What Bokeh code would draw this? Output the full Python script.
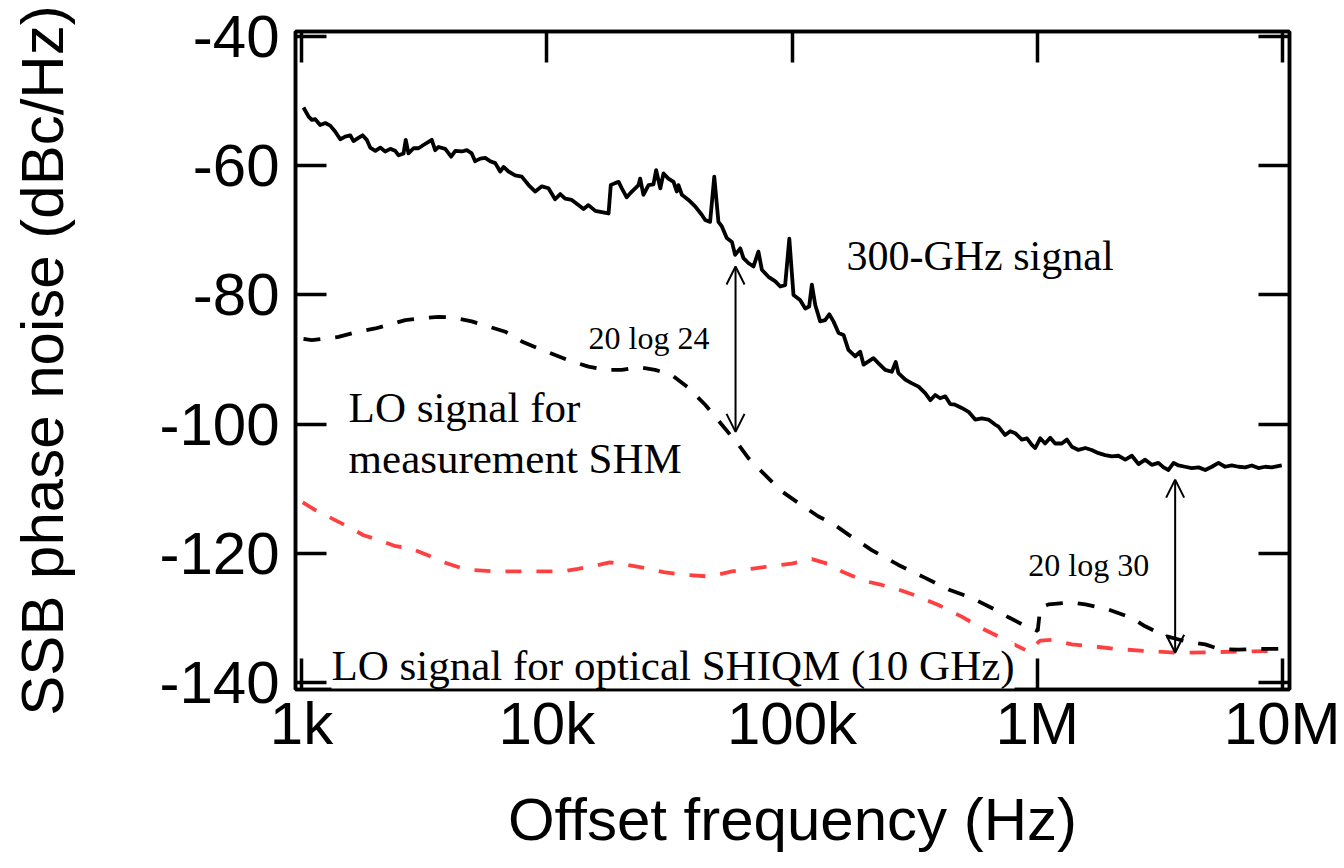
from bokeh.plotting import figure
from bokeh.models import (LogAxis, LinearAxis, FixedTicker, Range1d, Label,
                          Arrow, OpenHead)
from bokeh.embed import file_html
from bokeh.resources import INLINE

# ---------------- data ----------------
# x values are log10(offset frequency / Hz); y values are SSB phase noise in dBc/Hz

# 300-GHz signal (solid black)
sig_logf = [
    3.008, 3.029, 3.042, 3.056, 3.076, 3.097, 3.117, 3.137, 3.158, 3.178,
    3.199, 3.212, 3.232, 3.249, 3.266, 3.280, 3.301, 3.321, 3.341, 3.362,
    3.382, 3.396, 3.416, 3.425, 3.436, 3.457, 3.477, 3.497, 3.518, 3.531,
    3.545, 3.559, 3.586, 3.610, 3.627, 3.654, 3.674, 3.694, 3.708, 3.729,
    3.749, 3.769, 3.790, 3.810, 3.824, 3.844, 3.871, 3.898, 3.926, 3.953,
    3.980, 4.007, 4.034, 4.055, 4.075, 4.102, 4.129, 4.150, 4.170, 4.198,
    4.224, 4.252, 4.261, 4.279, 4.293, 4.306, 4.326, 4.347, 4.374, 4.381,
    4.394, 4.415, 4.435, 4.446, 4.463, 4.476, 4.496, 4.517, 4.530, 4.537,
    4.551, 4.578, 4.605, 4.632, 4.646, 4.666, 4.683, 4.700, 4.714, 4.734,
    4.755, 4.768, 4.789, 4.802, 4.823, 4.843, 4.863, 4.877, 4.904, 4.932,
    4.952, 4.972, 4.989, 5.006, 5.033, 5.054, 5.070, 5.081, 5.095, 5.115,
    5.135, 5.152, 5.169, 5.190, 5.210, 5.230, 5.258, 5.278, 5.292, 5.312,
    5.332, 5.353, 5.380, 5.407, 5.423, 5.434, 5.462, 5.489, 5.516, 5.543,
    5.564, 5.584, 5.604, 5.625, 5.645, 5.665, 5.692, 5.720, 5.747, 5.774,
    5.801, 5.829, 5.842, 5.869, 5.890, 5.910, 5.937, 5.958, 5.978, 5.992,
    6.012, 6.032, 6.053, 6.073, 6.100, 6.121, 6.141, 6.168, 6.196, 6.222,
    6.250, 6.277, 6.304, 6.331, 6.359, 6.386, 6.413, 6.440, 6.467, 6.494,
    6.515, 6.535, 6.556, 6.576, 6.603, 6.630, 6.658, 6.685, 6.712, 6.739,
    6.766, 6.793, 6.821, 6.848, 6.875, 6.902, 6.929, 6.956, 6.997,
]
sig_dbc = [
    -51.0, -52.4, -52.9, -52.8, -53.7, -53.4, -53.8, -54.7, -55.9, -55.5,
    -55.3, -56.2, -55.7, -55.3, -56.0, -57.2, -57.7, -57.2, -57.8, -57.4,
    -57.7, -58.4, -58.1, -56.0, -58.1, -57.3, -57.3, -56.8, -56.3, -56.0,
    -57.6, -57.1, -57.4, -58.6, -57.7, -57.8, -57.6, -58.1, -59.3, -58.9,
    -58.8, -59.3, -59.6, -60.9, -60.2, -60.9, -61.5, -61.7, -63.0, -64.0,
    -63.2, -63.5, -65.2, -64.4, -65.1, -65.3, -66.1, -66.7, -66.1, -67.0,
    -67.2, -67.4, -63.0, -62.7, -62.5, -63.5, -64.9, -64.0, -63.0, -62.0,
    -64.5, -63.0, -62.9, -60.7, -63.5, -61.2, -62.0, -62.5, -64.0, -63.0,
    -64.5, -65.3, -66.3, -67.6, -68.4, -68.7, -61.7, -68.7, -69.4, -71.2,
    -71.8, -73.8, -72.8, -74.3, -75.1, -75.6, -73.3, -76.1, -77.2, -77.9,
    -78.7, -78.5, -71.3, -80.0, -80.8, -82.1, -81.8, -78.4, -81.6, -84.1,
    -83.9, -83.0, -84.1, -85.9, -86.2, -88.5, -89.5, -88.8, -90.8, -90.3,
    -89.8, -90.6, -91.6, -91.9, -90.4, -92.1, -93.1, -93.7, -94.2, -95.2,
    -96.3, -95.5, -96.0, -95.7, -96.9, -97.0, -97.5, -98.1, -99.3, -99.1,
    -99.3, -100.1, -100.4, -101.7, -101.1, -101.4, -102.4, -102.2, -103.2, -103.7,
    -102.2, -103.0, -102.1, -103.0, -103.0, -102.4, -103.5, -104.0, -103.7, -104.0,
    -104.5, -104.8, -105.0, -104.9, -105.5, -104.9, -106.2, -105.5, -106.3, -106.0,
    -106.7, -107.1, -106.0, -106.4, -106.6, -106.8, -106.7, -107.1, -106.6, -106.0,
    -106.6, -106.4, -106.6, -106.7, -106.4, -106.8, -106.6, -106.7, -106.4,
]

# LO signal for measurement SHM (dashed black)
shm_logf = [
    3.008, 3.042, 3.151, 3.219, 3.301, 3.423, 3.491, 3.559, 3.613, 3.694,
    3.762, 3.831, 3.898, 3.966, 4.034, 4.102, 4.170, 4.238, 4.306, 4.374,
    4.442, 4.510, 4.578, 4.646, 4.714, 4.782, 4.823, 4.891, 4.958, 5.026,
    5.108, 5.162, 5.230, 5.325, 5.434, 5.543, 5.638, 5.733, 5.842, 5.883,
    5.964, 6.002, 6.012, 6.046, 6.141, 6.196, 6.291, 6.386, 6.440, 6.522,
    6.603, 6.685, 6.739, 6.821, 6.902, 6.997,
]
shm_dbc = [
    -86.8, -87.0, -86.5, -85.8, -85.2, -83.9, -83.6, -83.4, -83.5, -84.1,
    -84.9, -85.7, -87.2, -88.3, -89.3, -90.3, -91.1, -91.6, -91.6, -91.2,
    -91.6, -92.4, -94.4, -97.0, -100.1, -103.2, -105.3, -107.9, -110.4, -112.2,
    -114.3, -115.3, -117.1, -119.5, -121.8, -123.8, -125.6, -126.9, -129.0, -129.9,
    -131.5, -132.0, -128.5, -127.9, -127.6, -127.9, -128.7, -130.0, -131.3, -132.8,
    -133.6, -134.1, -134.8, -134.9, -134.8, -134.8,
]

# LO signal for optical SHIQM, 10 GHz (dashed red)
iqm_logf = [
    3.005, 3.056, 3.129, 3.180, 3.253, 3.311, 3.384, 3.442, 3.515, 3.573,
    3.646, 3.704, 3.791, 3.966, 4.068, 4.127, 4.199, 4.257, 4.345, 4.403,
    4.476, 4.549, 4.665, 4.755, 4.891, 4.999, 5.081, 5.162, 5.203, 5.298,
    5.366, 5.434, 5.516, 5.597, 5.692, 5.774, 5.869, 5.964, 6.012, 6.059,
    6.141, 6.250, 6.318, 6.440, 6.576, 6.712, 6.848, 6.997,
]
iqm_dbc = [
    -112.1, -113.3, -114.7, -115.7, -117.2, -117.9, -118.9, -119.2, -120.3, -121.3,
    -122.2, -122.6, -122.8, -122.8, -122.8, -122.4, -121.9, -121.4, -121.9, -122.3,
    -122.9, -123.3, -123.6, -122.8, -122.1, -121.6, -120.9, -121.8, -122.8, -124.3,
    -124.9, -125.6, -126.7, -128.0, -129.8, -131.6, -133.4, -135.2, -133.5, -133.4,
    -134.1, -134.5, -134.8, -135.1, -135.4, -135.3, -135.2, -135.1,
]

x_ticks = [1e3, 1e4, 1e5, 1e6, 1e7]
x_tick_labels = ["1k", "10k", "100k", "1M", "10M"]
y_ticks = [-140, -120, -100, -80, -60, -40]
y_tick_labels = ["-140", "-120", "-100", "-80", "-60", "-40"]

x_title = "Offset frequency (Hz)"
y_title = "SSB phase noise (dBc/Hz)"

# ---------------- figure ----------------
def hz(logs):
    return [10 ** v for v in logs]

p = figure(width=1340, height=862, x_axis_type="log",
           x_range=Range1d(945, 1.068e7), y_range=Range1d(-141.08, -39.23),
           output_backend="svg", toolbar_location=None,
           min_border_left=295, min_border_right=51,
           min_border_top=31, min_border_bottom=173)
p.background_fill_color = "white"
p.border_fill_color = "white"
p.outline_line_color = "black"
p.outline_line_width = 3.5
p.xgrid.visible = False
p.ygrid.visible = False

TICK_FONT = "Liberation Sans"

def style_axis(ax, ticks, overrides, show_labels):
    ax.ticker = FixedTicker(ticks=ticks)
    ax.major_label_overrides = overrides
    ax.axis_line_width = 3.5
    ax.axis_line_color = "black"
    ax.major_tick_line_width = 3.5
    ax.major_tick_line_color = "black"
    ax.major_tick_in = 31
    ax.major_tick_out = 0
    ax.minor_tick_line_color = None
    ax.major_label_text_font = TICK_FONT
    ax.major_label_text_color = "black"
    if show_labels:
        ax.major_label_text_font_size = "60px"
    else:
        ax.major_label_text_font_size = "0px"
        ax.major_label_standoff = 0

xov = {t: l for t, l in zip(x_ticks, x_tick_labels)}
yov = {t: l for t, l in zip(y_ticks, y_tick_labels)}

xa = p.xaxis[0]
style_axis(xa, x_ticks, xov, True)
xa.major_label_standoff = 0
xa.axis_label = x_title
xa.axis_label_text_font = TICK_FONT
xa.axis_label_text_font_size = "60px"
xa.axis_label_text_font_style = "normal"
xa.axis_label_text_color = "black"
xa.axis_label_standoff = 26

ya = p.yaxis[0]
style_axis(ya, y_ticks, yov, True)
ya.major_label_standoff = 16
ya.axis_label = y_title
ya.axis_label_text_font = TICK_FONT
ya.axis_label_text_font_size = "60px"
ya.axis_label_text_font_style = "normal"
ya.axis_label_text_color = "black"
ya.axis_label_standoff = 80

top = LogAxis()
style_axis(top, x_ticks, {t: "" for t in x_ticks}, False)
p.add_layout(top, "above")
right = LinearAxis()
style_axis(right, y_ticks, {t: "" for t in y_ticks}, False)
p.add_layout(right, "right")

# curves
p.line(hz(iqm_logf), iqm_dbc, line_color="#ff4040", line_width=3.8, line_dash="16 15")
p.line(hz(shm_logf), shm_dbc, line_color="black", line_width=3.8, line_dash="17 15")
p.line(hz(sig_logf), sig_dbc, line_color="black", line_width=3.8, line_join="round")

# arrows (20 log N markers)
arrow_f = [5.885e4, 3.65e6]
arrow_top = [-75.6, -108.6]
arrow_bottom = [-101.2, -135.4]
for f, yt, yb in zip(arrow_f, arrow_top, arrow_bottom):
    p.add_layout(Arrow(x_start=f, y_start=yb, x_end=f, y_end=yt,
                       line_width=2, line_color="black",
                       start=OpenHead(size=18, line_width=2, line_color="black"),
                       end=OpenHead(size=18, line_width=2, line_color="black")))

# text annotations
SERIF = "Liberation Serif"
annotations = [
    ("300-GHz signal", 1.667e5, -74.0, "42px", False),
    ("LO signal for", 1556, -97.5, "43px", False),
    ("measurement SHM", 1556, -105.4, "43px", False),
    ("20 log 24", 1.48e4, -86.6, "32px", False),
    ("20 log 30", 9.2e5, -121.8, "32px", False),
    ("LO signal for optical SHIQM (10 GHz)", 1325, -137.3, "43px", True),
]
for txt, x, y, size, bg in annotations:
    lab = Label(x=x, y=y, text=txt, text_font=SERIF, text_font_size=size,
                text_color="black", text_align="left", text_baseline="alphabetic")
    if bg:
        lab.background_fill_color = "white"
    p.add_layout(lab)

open("out.html", "w").write(file_html(p, INLINE))
